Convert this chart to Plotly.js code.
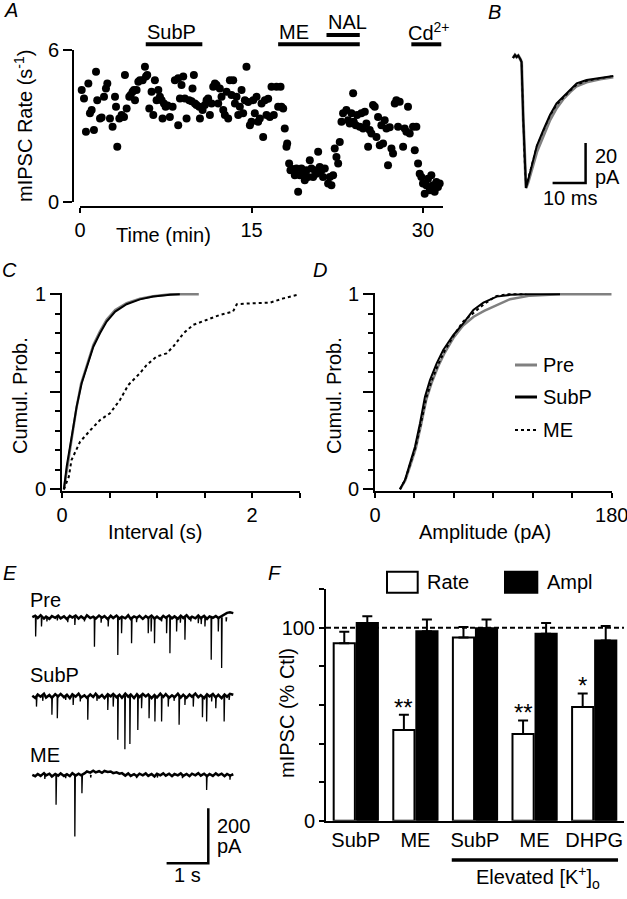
<!DOCTYPE html>
<html><head><meta charset="utf-8">
<script src="https://cdn.plot.ly/plotly-3.0.1.min.js"></script>
<style>html,body{margin:0;padding:0;background:#fff}#chart{width:627px;height:899px}</style>
</head><body><div id="chart"></div>
<script>
// ---------- Panel A: mIPSC rate time course ----------
const timeMin = [0.15,0.35,0.52,0.73,0.87,1.02,1.22,1.40,1.51,1.75,
1.89,2.10,2.27,2.39,2.62,2.85,3.06,3.15,3.26,3.44,
3.64,3.85,3.93,4.08,4.31,4.43,4.60,4.72,4.81,4.95,
5.10,5.24,5.48,5.68,5.77,5.88,6.06,6.26,6.41,6.55,
6.70,6.85,6.99,7.14,7.22,7.34,7.49,7.66,7.86,8.10,
8.30,8.59,8.59,8.74,8.88,9.03,9.17,9.32,9.55,9.76,
9.96,9.84,10.05,10.19,10.43,10.49,10.72,10.92,11.07,11.21,
11.36,11.51,11.65,11.80,11.94,12.09,12.23,12.38,12.53,12.67,
12.82,12.96,13.11,13.25,13.40,13.55,13.69,13.84,13.98,14.13,
14.27,14.42,14.56,14.71,14.86,15.00,15.15,15.29,15.44,15.58,
15.73,15.88,16.02,16.17,16.31,16.46,16.60,16.75,16.95,17.19,
17.33,17.54,17.62,17.77,17.91,18.06,18.12,18.29,18.41,18.58,
18.79,18.93,19.08,19.23,19.37,19.52,19.66,19.81,19.95,20.10,
20.24,20.39,20.54,20.68,20.83,20.97,21.12,21.26,21.41,21.70,
21.85,21.99,22.14,22.28,22.43,22.58,22.72,22.87,23.01,23.30,
23.45,23.59,23.74,23.89,23.94,24.12,24.24,24.47,24.61,24.76,
24.91,25.05,25.20,25.34,25.49,25.63,25.78,25.93,26.07,26.22,
26.36,26.51,26.65,26.80,26.94,27.09,27.24,27.38,27.53,27.67,
27.82,27.96,28.26,28.40,28.55,28.69,28.84,29.13,29.28,29.42,
29.57,29.71,29.86,30.00,30.15,30.29,30.44,30.59,30.73,30.88,
31.02,31.17,31.31,31.46];
const rateHz = [4.42,4.09,2.77,4.68,3.50,3.63,2.84,5.14,4.02,3.30,
3.34,4.15,4.48,4.68,3.30,2.97,4.15,3.76,2.18,3.30,
3.43,3.36,5.01,3.69,4.15,4.22,4.35,4.42,4.02,4.42,
4.75,4.81,4.81,5.34,4.95,5.01,3.69,4.35,3.43,4.81,
4.02,4.42,4.15,4.02,3.30,3.89,3.76,3.81,3.36,3.76,
4.81,4.88,3.03,4.09,4.62,4.95,4.09,3.30,4.02,3.98,
5.01,4.48,3.89,3.83,3.76,3.30,3.63,3.83,4.02,4.09,
3.43,3.89,4.55,4.68,4.62,3.89,4.48,4.15,3.63,3.43,
4.35,3.30,4.81,4.22,4.81,3.89,4.15,3.43,3.76,4.42,
3.50,4.02,5.34,3.95,3.03,3.17,4.02,3.50,4.15,3.17,
3.30,3.89,2.57,4.02,3.43,4.08,3.36,4.55,3.43,4.55,
3.76,4.55,3.76,3.69,2.90,2.18,2.31,1.52,1.25,1.30,
1.06,1.32,0.40,1.06,1.32,1.12,0.86,1.25,0.99,1.65,
1.32,0.99,1.25,1.12,1.98,1.38,1.25,0.99,1.32,0.73,
0.99,0.66,1.06,2.11,1.78,1.52,2.37,3.17,3.50,3.63,
3.23,3.10,3.50,4.29,3.17,3.03,3.43,2.97,3.50,2.90,
3.56,3.10,2.18,2.84,2.70,3.83,3.76,2.57,3.36,2.24,
3.03,2.31,3.23,2.90,1.45,2.95,2.11,1.91,3.89,4.02,
2.97,3.96,2.18,2.90,2.77,3.76,2.70,2.97,2.04,2.97,
1.52,1.12,0.99,0.73,0.33,0.66,0.92,0.46,1.06,0.66,
0.40,0.79,0.59,0.73];
const drugNames = ['SubP','ME','NAL','Cd<sup>2+</sup>'];
const drugStart = [5.75, 17.33, 21.56, 28.98];
const drugEnd   = [10.70, 24.47, 24.47, 31.60];
const drugRow   = [0, 0, 1, 0];

// ---------- Panel B: averaged mIPSCs ----------
const bTime   = [0, 0.6, 1.1, 1.6, 2.2, 2.6, 3.1, 3.5, 3.95, 4.6, 5.6, 7.2, 9.2, 11.2, 13.2, 15.2, 17.3, 19.3, 22.3, 26.4, 30.4];
const bPre    = [0, 1.5, 0.5, 1.2, -0.5, -2, -30, -52, -65, -62, -56, -47, -39, -31, -25, -20.5, -17, -14, -12, -10.5, -9.5];
const bSubP   = [0, 1.5, 0.5, 1.2, -0.5, -2, -30, -52, -65, -61, -54, -44, -36, -28.5, -22.7, -19.3, -16, -12.7, -11, -10, -9];
const bME     = [0, 1.5, 0.5, 1.2, -0.5, -2, -30, -52, -64, -60, -53, -44, -36.5, -29, -23.5, -20, -16.5, -13.5, -11.5, -10.2, -9];
const bScaleMs = 10, bScalePA = 20;

// ---------- Panel C: interval cumulative distributions ----------
const cPreX  = [0.02,0.05,0.10,0.15,0.20,0.26,0.33,0.40,0.47,0.56,0.68,0.82,0.96,1.14,1.44];
const cPreY  = [0,0.10,0.26,0.41,0.54,0.63,0.74,0.81,0.87,0.92,0.955,0.977,0.99,1.0,1.0];
const cSubX  = [0.02,0.049,0.102,0.154,0.207,0.26,0.33,0.40,0.47,0.56,0.68,0.82,0.96,1.14,1.24];
const cSubY  = [0,0.116,0.27,0.424,0.544,0.629,0.731,0.80,0.86,0.911,0.949,0.974,0.988,0.998,1.0];
const cMEX   = [0.02,0.072,0.10,0.19,0.30,0.40,0.505,0.61,0.698,0.82,0.89,0.994,1.10,1.17,1.28,1.38,1.52,1.66,1.80,1.84,2.01,2.19,2.33,2.50];
const cMEY   = [0,0.065,0.15,0.244,0.304,0.355,0.39,0.458,0.535,0.595,0.637,0.68,0.697,0.731,0.80,0.843,0.868,0.894,0.911,0.949,0.954,0.957,0.979,1.0];

// ---------- Panel D: amplitude cumulative distributions ----------
const dPreX = [19,23,27,31,35,39,43,48,53,60,67,75,83,92.5,102.7,118,140.7,180];
const dPreY = [0,0.045,0.125,0.21,0.33,0.46,0.545,0.63,0.70,0.78,0.84,0.885,0.915,0.945,0.975,0.993,1.0,1.0];
const dSubX = [19,22.8,26.6,30.4,34.2,38,41.8,46.9,51.9,59.5,67.1,74.8,82.4,92.5,102.7,115.4,140.7];
const dSubY = [0,0.048,0.133,0.218,0.338,0.475,0.56,0.646,0.714,0.791,0.851,0.919,0.957,0.988,0.997,1.0,1.0];
const dMEX  = [19,23,27,31,35,39,43,48,53,60,67,75,83,92,100,115];
const dMEY  = [0,0.05,0.135,0.22,0.34,0.47,0.555,0.64,0.71,0.79,0.86,0.905,0.95,0.99,1.0,1.0];
const legendNames = ['Pre','SubP','ME'];

// ---------- Panel E: raw current traces (event times s, amplitudes pA) ----------
const preEvT = [0.08,0.22,0.35,0.60,0.85,1.02,1.25,1.49,1.65,1.82,2.05,2.14,2.38,2.50,2.78,2.85,2.93,3.10,3.22,3.30,3.46,3.55,3.66,3.80,3.98,4.05,4.14,4.29,4.46,4.54,4.65];
const preEvA = [70,34,15,12,18,28,15,107,20,34,137,58,95,18,58,52,95,15,58,131,52,20,82,15,22,25,34,155,52,185,15];
const subEvT = [0.10,0.25,0.47,0.60,0.80,0.98,1.15,1.33,1.55,1.81,1.94,2.05,2.22,2.34,2.53,2.62,2.80,2.94,3.10,3.26,3.40,3.52,3.66,3.86,4.08,4.18,4.30,4.40,4.60,4.72];
const subEvA = [39,18,69,81,15,33,20,87,18,51,39,160,194,175,124,45,81,93,93,39,18,105,33,39,78,93,20,45,93,15];
const meEvT  = [0.30,0.57,0.80,1.02,1.19,1.40,2.50,3.00,3.60,4.18,4.74];
const meEvA  = [15,109,12,224,67,10,12,10,12,55,18];
const recBaseT = [0,0.07,0.13,0.2,0.28,0.33,0.41,0.47,0.55,0.62,
0.68,0.76,0.83,0.9,0.96,1.04,1.11,1.17,1.25,1.31,
1.39,1.46,1.52,1.6,1.67,1.73,1.81,1.88,1.94,2.02,
2.09,2.15,2.23,2.3,2.36,2.44,2.51,2.57,2.65,2.72,
2.78,2.86,2.93,2.99,3.07,3.14,3.2,3.28,3.35,3.41,
3.49,3.56,3.62,3.7,3.77,3.83,3.91,3.98,4.04,4.12,
4.19,4.25,4.33,4.4,4.46,4.54,4.61,4.67,4.74,4.82];
const preBaseV = [0,5,-3,7,-5,2,-6,4,-2,6,
-4,3,-7,5,-1,6,-5,3,-6,7,
-3,2,-5,6,-2,4,-7,5,-3,6,
-5,2,-4,7,-6,3,-2,5,-6,4,
-3,6,-5,2,-7,5,-2,6,-4,3,
-6,5,-3,7,-5,2,-4,6,-3,5,
-6,3,-2,4,-3,5,10,16,18,15];
const subBaseV = [0,-8,5,-3,8,-6,3,-7,6,-2,
7,-5,4,-8,6,-3,8,-6,2,-7,
5,-4,8,-6,3,-8,6,-2,7,-5,
4,-7,8,-3,5,-8,6,-4,7,-2,
5,-8,3,-6,8,-4,6,-7,2,-5,
8,-6,4,-7,5,-3,8,-5,3,-8,
6,-2,7,-6,4,-8,5,-3,7,4];
const meBaseV = [0,-5,3,-4,6,-2,4,-6,3,-3,
5,-4,2,-5,6,-3,4,-2,5,12,
8,15,9,13,7,14,10,12,6,9,
4,6,-3,5,-4,2,-5,4,-2,5,
-4,3,-6,4,-2,5,-3,4,-5,3,
-2,5,-4,3,-5,4,-2,6,-3,4,
-5,3,-4,5,-2,4,-5,3,-3,2];
const eScaleS = 1, eScalePA = 200;

// ---------- Panel F: summary bars ----------
const fCats    = ['SubP','ME','SubP','ME','DHPG'];
const fRate    = [92, 47, 95, 45, 59];
const fRateErr = [6, 8, 5.5, 7, 7];
const fAmpl    = [102.5, 98.3, 99.8, 97, 93.5];
const fAmplErr = [3.5, 6, 4.5, 5.5, 7.5];
const fStars   = ['', '**', '', '**', '*'];

// ================= layout helpers =================
const W = 627, H = 899;
const X = p => p / W, Y = p => 1 - p / H;
const FONT = 'Liberation Sans, Arial, Helvetica, sans-serif';
const FS = 20;
const GRAY = '#808080';

const traces = [];
// A
traces.push({type:'scatter', mode:'markers', x:timeMin, y:rateHz, xaxis:'x', yaxis:'y',
  marker:{size:8, color:'#000'}, cliponaxis:false, hoverinfo:'skip'});
// B
traces.push({type:'scatter', mode:'lines', x:bTime, y:bPre, xaxis:'x2', yaxis:'y2', line:{color:GRAY, width:3}});
traces.push({type:'scatter', mode:'lines', x:bTime, y:bSubP, xaxis:'x2', yaxis:'y2', line:{color:'#000', width:2}});
traces.push({type:'scatter', mode:'lines', x:bTime, y:bME, xaxis:'x2', yaxis:'y2', line:{color:'#000', width:1.5, dash:'dot'}});
const bCornerT = 22, bCornerI = -62.5;
traces.push({type:'scatter', mode:'lines', x:[bCornerT-bScaleMs, bCornerT, bCornerT], y:[bCornerI, bCornerI, bCornerI+bScalePA],
  xaxis:'x2', yaxis:'y2', line:{color:'#000', width:2.5}});
// C
traces.push({type:'scatter', mode:'lines', x:cPreX, y:cPreY, xaxis:'x3', yaxis:'y3', line:{color:GRAY, width:2.5}});
traces.push({type:'scatter', mode:'lines', x:cSubX, y:cSubY, xaxis:'x3', yaxis:'y3', line:{color:'#000', width:2}});
traces.push({type:'scatter', mode:'lines', x:cMEX, y:cMEY, xaxis:'x3', yaxis:'y3', line:{color:'#000', width:2, dash:'dot'}});
// D
traces.push({type:'scatter', mode:'lines', x:dPreX, y:dPreY, xaxis:'x4', yaxis:'y4', line:{color:GRAY, width:2.5}});
traces.push({type:'scatter', mode:'lines', x:dSubX, y:dSubY, xaxis:'x4', yaxis:'y4', line:{color:'#000', width:2}});
traces.push({type:'scatter', mode:'lines', x:dMEX, y:dMEY, xaxis:'x4', yaxis:'y4', line:{color:'#000', width:2, dash:'dot'}});
// E
const eOffsets = [0, -286, -573];
function spikes(ts, as, off){
  const xs=[], ys=[];
  ts.forEach((t,i)=>{ xs.push(t-0.004, t, t+0.012, null); ys.push(off, off-as[i], off, null); });
  return {xs, ys};
}
[[preEvT,preEvA,preBaseV],[subEvT,subEvA,subBaseV],[meEvT,meEvA,meBaseV]].forEach((r,k)=>{
  const off = eOffsets[k];
  traces.push({type:'scatter', mode:'lines', x:recBaseT, y:r[2].map(v=>v+off), xaxis:'x5', yaxis:'y5', line:{color:'#000', width:2.5}});
  const s = spikes(r[0], r[1], off);
  traces.push({type:'scatter', mode:'lines', x:s.xs, y:s.ys, xaxis:'x5', yaxis:'y5', connectgaps:false, line:{color:'#000', width:1.3}});
});
const eCornerT = 4.22, eCornerI = -894.5;
traces.push({type:'scatter', mode:'lines', x:[eCornerT-eScaleS, eCornerT, eCornerT], y:[eCornerI, eCornerI, eCornerI+eScalePA],
  xaxis:'x5', yaxis:'y5', line:{color:'#000', width:2.5}});
// F
const fIdx = fCats.map((c,i)=>i);
traces.push({type:'bar', x:fIdx, y:fRate, xaxis:'x6', yaxis:'y6', marker:{color:'#fff', line:{color:'#000', width:2}},
  error_y:{type:'data', symmetric:false, array:fRateErr, arrayminus:fRateErr.map(()=>0), color:'#000', thickness:2, width:5}});
traces.push({type:'bar', x:fIdx, y:fAmpl, xaxis:'x6', yaxis:'y6', marker:{color:'#000', line:{color:'#000', width:2}},
  error_y:{type:'data', symmetric:false, array:fAmplErr, arrayminus:fAmplErr.map(()=>0), color:'#000', thickness:2, width:5}});
traces.push({type:'scatter', mode:'lines', x:[-0.5, 4.5], y:[100, 100], xaxis:'x6', yaxis:'y6', line:{color:'#000', width:2, dash:'5px,3px'}});

const axBase = {showgrid:false, zeroline:false, showline:true, linewidth:2, linecolor:'#000',
  ticks:'outside', tickwidth:2, tickcolor:'#000', tickfont:{size:FS, color:'#000', family:FONT}, fixedrange:true,
  ticklabeloverflow:'allow'};
const hidden = {visible:false, fixedrange:true};
const minorTicks = (vals, len) => ({tickmode:'array', tickvals:vals, ticks:'outside', ticklen:len, tickwidth:2, tickcolor:'#000', showgrid:false});

const shapes = [];
drugStart.forEach((s,i)=>{
  const yy = drugRow[i] === 0 ? 44.3 : 35;
  shapes.push({type:'line', xref:'x', yref:'paper', x0:s, x1:drugEnd[i], y0:Y(yy), y1:Y(yy), line:{color:'#000', width:4}});
});
// D legend samples
const legY = [365, 397, 430];
const legStyles = [{color:GRAY, width:3}, {color:'#000', width:3}, {color:'#000', width:2, dash:'dot'}];
legY.forEach((yy,i)=>shapes.push({type:'line', xref:'paper', yref:'paper', x0:X(515), x1:X(537), y0:Y(yy), y1:Y(yy), line:legStyles[i]}));
// F legend boxes and underline
shapes.push({type:'rect', xref:'paper', yref:'paper', x0:X(387), x1:X(417.7), y0:Y(592.7), y1:Y(571.7), line:{color:'#000', width:2}, fillcolor:'#fff'});
shapes.push({type:'rect', xref:'paper', yref:'paper', x0:X(505), x1:X(537.3), y0:Y(592.7), y1:Y(571.7), line:{color:'#000', width:2}, fillcolor:'#000'});
shapes.push({type:'line', xref:'x6', yref:'paper', x0:1.61, x1:4.40, y0:Y(860), y1:Y(860), line:{color:'#000', width:3.5}});

const annotations = [];
function ann(text, x, y, o){ annotations.push(Object.assign({text, x, y, xref:'paper', yref:'paper', showarrow:false,
  xanchor:'center', yanchor:'middle', font:{size:FS, family:FONT, color:'#000'}}, o||{})); }
// panel letters
ann('<i>A</i>', X(2), Y(10), {xanchor:'left'});
ann('<i>B</i>', X(486), Y(12), {xanchor:'left'});
ann('<i>C</i>', X(0), Y(270), {xanchor:'left'});
ann('<i>D</i>', X(311), Y(270), {xanchor:'left'});
ann('<i>E</i>', X(1), Y(573), {xanchor:'left'});
ann('<i>F</i>', X(266), Y(573), {xanchor:'left'});
// A
ann('mIPSC Rate (s<sup>-1</sup>)', X(23), Y(126), {textangle:-90});
ann('Time (min)', X(163), Y(235));
drugNames.forEach((n,i)=>{
  const yy = drugRow[i] === 0 ? 31.7 : 21.7;
  annotations.push({text:n, x:drugStart[i], y:Y(yy), xref:'x', yref:'paper', showarrow:false, xanchor:'left', yanchor:'middle',
    xshift: i===3 ? -5 : -1, font:{size:FS, family:FONT, color:'#000'}});
});
// B
ann('20', X(593), Y(156), {xanchor:'left'});
ann('pA', X(593), Y(177), {xanchor:'left'});
ann('10 ms', X(570), Y(198));
// C, D
ann('Cumul. Prob.', X(20), Y(396), {textangle:-90});
ann('Interval (s)', X(155), Y(532));
ann('Cumul. Prob.', X(334), Y(396), {textangle:-90});
ann('Amplitude (pA)', X(485), Y(532));
legendNames.forEach((n,i)=>ann(n, X(541), Y(legY[i]), {xanchor:'left'}));
// E
ann('Pre', X(28), Y(600), {xanchor:'left'});
ann('SubP', X(28), Y(675), {xanchor:'left'});
ann('ME', X(28), Y(755), {xanchor:'left'});
ann('200', X(215), Y(826), {xanchor:'left'});
ann('pA', X(215), Y(846), {xanchor:'left'});
ann('1 s', X(187), Y(875));
// F
ann('mIPSC (% Ctl)', X(287), Y(713), {textangle:-90});
ann('Rate', X(425), Y(582), {xanchor:'left'});
ann('Ampl', X(545), Y(582), {xanchor:'left'});
ann('Elevated [K<sup>+</sup>]<sub>o</sub>', X(538), Y(877));
fStars.forEach((s,i)=>{
  if(!s) return;
  annotations.push({text:s, x:i-0.193, y:fRate[i]+fRateErr[i], xref:'x6', yref:'y6', showarrow:false, xanchor:'center', yanchor:'bottom',
    yshift:-8, font:{size:24, family:FONT, color:'#000'}});
});

const layout = {
  width:W, height:H, autosize:false, margin:{l:0,r:0,t:0,b:0,pad:0},
  paper_bgcolor:'#fff', plot_bgcolor:'rgba(0,0,0,0)', showlegend:false,
  font:{family:FONT, size:FS, color:'#000'},
  barmode:'group', bargap:0.227, bargroupgap:0.08,
  xaxis: Object.assign({}, axBase, {domain:[X(80), X(443)], range:[0, 31.75], anchor:'free', position:Y(206.5),
    tickmode:'array', tickvals:[0,15,30], ticklen:5}),
  yaxis: Object.assign({}, axBase, {domain:[Y(202), Y(50)], range:[0, 6], anchor:'free', position:X(73),
    tickmode:'array', tickvals:[0,6], ticklen:9}),
  xaxis2: Object.assign({}, hidden, {domain:[X(505), X(625)], range:[-2.42, 33.94], anchor:'y2'}),
  yaxis2: Object.assign({}, hidden, {domain:[Y(210), Y(40)], range:[-76, 9], anchor:'x2'}),
  xaxis3: Object.assign({}, axBase, {domain:[X(62), X(299.5)], range:[0, 2.5], anchor:'y3',
    tickmode:'array', tickvals:[0,2], ticklen:5, minor:minorTicks([0.5,1,1.5,2.5], 5)}),
  yaxis3: Object.assign({}, axBase, {domain:[Y(490.5), Y(293.1)], range:[-0.006, 1.006], anchor:'x3',
    tickmode:'array', tickvals:[0,0.5,1], ticktext:['0','','1'], ticklen:10,
    minor:minorTicks([0.1,0.2,0.3,0.4,0.6,0.7,0.8,0.9], 5)}),
  xaxis4: Object.assign({}, axBase, {domain:[X(375), X(611.7)], range:[0, 180], anchor:'y4',
    tickmode:'array', tickvals:[0,180], ticklen:5, minor:minorTicks([30,60,90,120,150], 5)}),
  yaxis4: Object.assign({}, axBase, {domain:[Y(490.5), Y(293.1)], range:[-0.006, 1.006], anchor:'x4',
    tickmode:'array', tickvals:[0,0.5,1], ticktext:['0','','1'], ticklen:10,
    minor:minorTicks([0.1,0.2,0.3,0.4,0.6,0.7,0.8,0.9], 5)}),
  xaxis5: Object.assign({}, hidden, {domain:[X(20), X(260)], range:[-0.295, 5.46], anchor:'y5'}),
  yaxis5: Object.assign({}, hidden, {domain:[Y(870), Y(590)], range:[-919.2, 99], anchor:'x5'}),
  xaxis6: Object.assign({}, axBase, {domain:[X(326), X(624)], range:[-0.5, 4.5], anchor:'y6',
    tickmode:'array', tickvals:fIdx, ticktext:fCats, ticks:''}),
  yaxis6: Object.assign({}, axBase, {domain:[Y(820.7), Y(589.3)], range:[0, 120], anchor:'x6',
    tickmode:'array', tickvals:[0,100], ticklen:5, minor:minorTicks([20,40,60,80,120], 5)}),
  shapes, annotations
};
Plotly.newPlot('chart', traces, layout, {staticPlot:true, displayModeBar:false});
</script></body></html>
